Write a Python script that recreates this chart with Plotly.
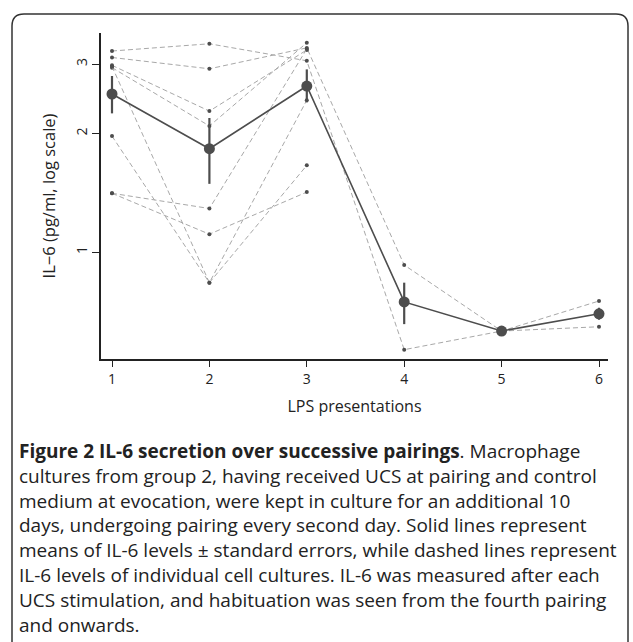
import math
import plotly.graph_objects as go

# ---------------- data ----------------
presentations = [1, 2, 3, 4, 5, 6]
x_ticks = [1, 2, 3, 4, 5, 6]
y_ticks = [1, 2, 3]
y_tick_labels = ["1", "2", "3"]

culture_a = [3.24, 3.38, 3.06, 0.565, 0.63, 0.646]
culture_b = [3.12, 2.92, 3.30, 0.927, 0.63, 0.751]
culture_c = [2.98, 2.28, 3.26, None, None, None]
culture_d = [2.94, 2.09, 3.40, None, None, None]
culture_e = [2.96, 0.836, 2.43, None, None, None]
culture_f = [1.97, 0.836, 1.66, None, None, None]
culture_g = [1.41, 1.29, 3.28, None, None, None]
culture_h = [1.41, 1.11, 1.42, None, None, None]
cultures = [culture_a, culture_b, culture_c, culture_d,
            culture_e, culture_f, culture_g, culture_h]

mean_il6 = [2.52, 1.83, 2.64, 0.747, 0.630, 0.697]
se_upper = [2.80, 2.19, 2.91, 0.836, 0.640, 0.722]
se_lower = [2.25, 1.49, 2.40, 0.656, 0.620, 0.673]

caption_lines = [
    "<b>Figure 2 IL-6 secretion over successive pairings</b>. Macrophage",
    "cultures from group 2, having received UCS at pairing and control",
    "medium at evocation, were kept in culture for an additional 10",
    "days, undergoing pairing every second day. Solid lines represent",
    "means of IL-6 levels ± standard errors, while dashed lines represent",
    "IL-6 levels of individual cell cultures. IL-6 was measured after each",
    "UCS stimulation, and habituation was seen from the fourth pairing",
    "and onwards.",
]

# ---------------- layout geometry (pixels) ----------------
W, H = 633, 642
PL, PR, PT, PB = 101, 608, 33, 359   # plot area edges


def px(x):
    return (x - PL) / (PR - PL)


def py(y):
    return (PB - y) / (PB - PT)


FONT = "Open Sans"
DARK = "#4d4d4d"
GREY = "#a8a8a8"

fig = go.Figure()

for c in cultures:
    fig.add_trace(go.Scatter(
        x=presentations, y=c, mode="lines+markers",
        line=dict(color=GREY, width=1, dash="5px,3px"),
        marker=dict(color=DARK, size=4),
        connectgaps=False, showlegend=False, hoverinfo="skip"))

err_plus = [u - m for u, m in zip(se_upper, mean_il6)]
err_minus = [m - l for m, l in zip(mean_il6, se_lower)]
fig.add_trace(go.Scatter(
    x=presentations, y=mean_il6, mode="lines+markers",
    line=dict(color=DARK, width=1.6),
    marker=dict(color=DARK, size=11),
    error_y=dict(type="data", array=err_plus, arrayminus=err_minus,
                 color=DARK, thickness=2.2, width=0, symmetric=False),
    showlegend=False))

fig.update_layout(
    width=W, height=H,
    margin=dict(l=PL, r=W - PR, t=PT, b=H - PB, pad=0),
    paper_bgcolor="white", plot_bgcolor="white",
    font=dict(family=FONT, color="#222222"),
    xaxis=dict(range=[1 - 11 / 97.4, 6 + 9 / 97.4], tickvals=x_ticks,
               ticks="outside", ticklen=6, tickwidth=1, tickcolor="#222",
               showline=True, linecolor="#222", linewidth=1.5,
               showgrid=False, zeroline=False, automargin=False,
               tickfont=dict(size=14, family=FONT),
               title=dict(text="LPS presentations", standoff=14,
                          font=dict(size=16, family=FONT))),
    yaxis=dict(type="log", range=[math.log10(0.535), math.log10(3.6)],
               tickvals=y_ticks, ticktext=y_tick_labels, tickangle=-90,
               ticks="outside", ticklen=7, tickwidth=1, tickcolor="#222",
               showline=True, linecolor="#222", linewidth=1.5,
               showgrid=False, zeroline=False, automargin=False,
               tickfont=dict(size=14, family=FONT),
               title=dict(text="IL−6 (pg/ml, log scale)", standoff=12,
                          font=dict(size=16.5, family=FONT))),
)

# rounded frame
x0, x1, y0, y1, r = 12, 628, 14, 670, 12
path = (f"M {px(x0)},{py(y1)} L {px(x0)},{py(y0 + r)} "
        f"Q {px(x0)},{py(y0)} {px(x0 + r)},{py(y0)} "
        f"L {px(x1 - r)},{py(y0)} Q {px(x1)},{py(y0)} {px(x1)},{py(y0 + r)} "
        f"L {px(x1)},{py(y1)}")
fig.add_shape(type="path", path=path, xref="paper", yref="paper",
              line=dict(color="#333333", width=1.5), layer="below")

for i, line in enumerate(caption_lines):
    fig.add_annotation(text=line, xref="paper", yref="paper",
                       x=px(17), y=py(451 + i * 24.8),
                       xanchor="left", yanchor="middle", showarrow=False,
                       font=dict(size=19, family=FONT, color="#222222"))

fig.write_html("out.html",
               config={"displayModeBar": False},
               post_script="document.body.style.margin='0';"
                           "document.body.style.overflow='hidden';")
